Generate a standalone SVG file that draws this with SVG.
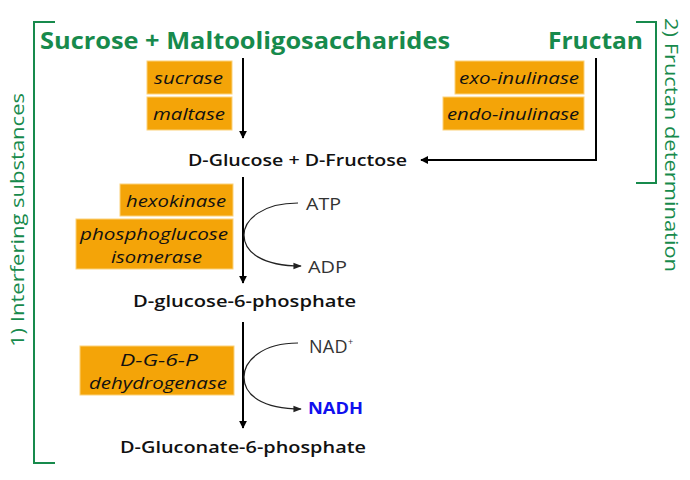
<svg xmlns="http://www.w3.org/2000/svg" width="690" height="480" viewBox="0 0 690 480">
<defs>
<style>
.t{font-family:"Open Sans",Lato,"Liberation Sans",sans-serif;}
.title{font-weight:bold;font-size:24px;fill:#178a4c;}
.side{font-size:18px;fill:#178a4c;}
.enz{font-style:italic;font-size:17px;fill:#111;}
.box{fill:#F4A408;stroke:#fbd27a;stroke-width:1;}
.chem{font-weight:600;font-size:16.5px;fill:#111;}
.co{font-size:16.5px;fill:#333;}
.br{fill:none;stroke:#178a4c;stroke-width:2;}
.ar{fill:none;stroke:#000;stroke-width:2;}
.cu{fill:none;stroke:#222;stroke-width:1.2;}
</style>
<marker id="ah" viewBox="0 0 10 10" refX="9" refY="5" markerWidth="4" markerHeight="4" orient="auto"><path d="M0,0 L10,5 L0,10 Z" fill="#000"/></marker>
<marker id="ah2" viewBox="0 0 10 10" refX="9" refY="5" markerWidth="7" markerHeight="7" orient="auto"><path d="M0,1 L10,5 L0,9 Z" fill="#222"/></marker>
</defs>
<rect width="690" height="480" fill="#fff"/>
<g id="brackets">
<path class="br" d="M55,22 H34 V463 H55"/>
<path class="br" d="M636,22 H656 V183 H636"/>
<text class="t side" transform="translate(24,220) rotate(-90)" text-anchor="middle" textLength="254" lengthAdjust="spacingAndGlyphs">1) Interfering substances</text>
<text class="t side" transform="translate(665,145) rotate(90)" text-anchor="middle" textLength="254" lengthAdjust="spacingAndGlyphs">2) Fructan determination</text>
</g>
<g id="connectors">
<path class="ar" d="M243,58 V138" marker-end="url(#ah)"/>
<path class="ar" d="M596,58 V160 H421" marker-end="url(#ah)"/>
<path class="ar" d="M243,177 V283" marker-end="url(#ah)"/>
<path class="ar" d="M243,322 V428" marker-end="url(#ah)"/>
<path class="cu" d="M298,203 C262,203 244,220 244,235 C244,252 262,266 301,266" marker-end="url(#ah2)"/>
<path class="cu" d="M298,343 C262,343 244,361 244,377 C244,395 262,409 301,409" marker-end="url(#ah2)"/>
</g>
<g id="n-sucrose"><text class="t title" x="40" y="49" textLength="410" lengthAdjust="spacingAndGlyphs">Sucrose + Maltooligosaccharides</text></g>
<g id="n-fructan"><text class="t title" x="548" y="49" textLength="95" lengthAdjust="spacingAndGlyphs">Fructan</text></g>
<g id="n-sucrase"><rect class="box" x="147" y="61" width="85" height="33"/><text class="t enz" x="154" y="84" textLength="69" lengthAdjust="spacingAndGlyphs">sucrase</text></g>
<g id="n-maltase"><rect class="box" x="147" y="97" width="85" height="33"/><text class="t enz" x="153" y="120" textLength="72" lengthAdjust="spacingAndGlyphs">maltase</text></g>
<g id="n-exo"><rect class="box" x="455" y="61" width="129" height="33"/><text class="t enz" x="459" y="84" textLength="120" lengthAdjust="spacingAndGlyphs">exo-inulinase</text></g>
<g id="n-endo"><rect class="box" x="443" y="97" width="141" height="33"/><text class="t enz" x="447" y="120" textLength="132" lengthAdjust="spacingAndGlyphs">endo-inulinase</text></g>
<g id="n-glcfru"><text class="t chem" x="188" y="166" textLength="219" lengthAdjust="spacingAndGlyphs">D-Glucose + D-Fructose</text></g>
<g id="n-hexo"><rect class="box" x="120" y="184" width="113" height="32"/><text class="t enz" x="126" y="207" textLength="100" lengthAdjust="spacingAndGlyphs">hexokinase</text></g>
<g id="n-pgi"><rect class="box" x="76" y="219" width="157" height="50"/><text class="t enz" x="80" y="240" textLength="148" lengthAdjust="spacingAndGlyphs">phosphoglucose</text><text class="t enz" x="111" y="263" textLength="91" lengthAdjust="spacingAndGlyphs">isomerase</text></g>
<g id="n-atp"><text class="t co" x="306" y="210" textLength="35" lengthAdjust="spacingAndGlyphs">ATP</text></g>
<g id="n-adp"><text class="t co" x="308" y="273" textLength="39" lengthAdjust="spacingAndGlyphs">ADP</text></g>
<g id="n-g6p"><text class="t chem" x="133" y="307" textLength="223" lengthAdjust="spacingAndGlyphs">D-glucose-6-phosphate</text></g>
<g id="n-g6pdh"><rect class="box" x="80" y="346" width="154" height="49"/><text class="t enz" x="120" y="366" textLength="78" lengthAdjust="spacingAndGlyphs">D-G-6-P</text><text class="t enz" x="89" y="389" textLength="138" lengthAdjust="spacingAndGlyphs">dehydrogenase</text></g>
<g id="n-nad"><text class="t co" x="309" y="353" style="font-size:18px;letter-spacing:0.3px">NAD<tspan style="font-size:9px" dy="-8">+</tspan></text></g>
<g id="n-nadh"><text class="t" x="308" y="414" font-weight="bold" font-size="16.5" fill="#1010ee" textLength="55" lengthAdjust="spacingAndGlyphs">NADH</text></g>
<g id="n-gluconate"><text class="t chem" x="120" y="453" textLength="246" lengthAdjust="spacingAndGlyphs">D-Gluconate-6-phosphate</text></g>
</svg>
